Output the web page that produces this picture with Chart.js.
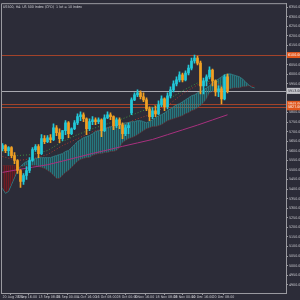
<!DOCTYPE html>
<html>
<head>
<meta charset="utf-8">
<script src="https://cdn.jsdelivr.net/npm/chart.js@4.4.1/dist/chart.umd.min.js"></script>
<style>
  html, body { margin: 0; padding: 0; background: #2c2c38; }
  #chart { display: block; }
</style>
</head>
<body>
<canvas id="chart" width="300" height="300"></canvas>
<script>
// H4 slots across the plot (candles + ichimoku shift into the future)
var slotCount = 95;
var tickSlots = [0, 5, 12, 18, 25, 31, 38, 44, 51, 57, 63, 70];
var tickLabels = ['20 Aug 2024', '3 Sep 16:00', '13 Sep 08:00', '25 Sep 00:00', '4 Oct 16:00', '16 Oct 08:00',
  '28 Oct 00:00', '6 Nov 16:00', '18 Nov 08:00', '28 Nov 00:00', '10 Dec 16:00', '20 Dec 08:00'];

var yTickValues = [4900, 4950, 5000, 5050, 5100, 5150, 5200, 5250, 5300, 5350, 5400, 5450, 5500, 5550, 5600,
  5650, 5700, 5750, 5800, 5850, 5900, 5950, 6000, 6050, 6100, 6150, 6200, 6250, 6300, 6350];

var open = [5611, 5627, 5601, 5616, 5575, 5549, 5497, 5440, 5471, 5497, 5549, 5606, 5622, 5585, 5663, 5648,
  5668, 5658, 5720, 5694, 5663, 5705, 5746, 5689, 5715, 5746, 5778, 5788, 5767, 5715, 5752, 5762,
  5752, 5762, 5705, 5772, 5788, 5778, 5731, 5762, 5736, 5689, 5720, 5798, 5866, 5892, 5902, 5882,
  5866, 5819, 5778, 5809, 5793, 5840, 5871, 5830, 5887, 5918, 5949, 5970, 5996, 5970, 6006, 6032,
  6069, 6084, 6058, 5939, 5965, 5986, 6022, 5965, 5908, 5923, 5871, 5986];
var high = [5637, 5632, 5622, 5622, 5590, 5554, 5502, 5481, 5518, 5564, 5616, 5632, 5632, 5684, 5679, 5679,
  5684, 5741, 5731, 5715, 5705, 5757, 5752, 5720, 5757, 5793, 5804, 5798, 5772, 5767, 5778, 5772,
  5772, 5767, 5788, 5804, 5798, 5783, 5772, 5772, 5746, 5736, 5746, 5876, 5902, 5918, 5913, 5902,
  5876, 5830, 5825, 5835, 5861, 5887, 5876, 5902, 5934, 5965, 5986, 6012, 6006, 6017, 6048, 6084,
  6100, 6095, 6069, 5980, 5996, 6038, 6027, 5970, 5939, 5934, 5996, 6001];
var low = [5601, 5590, 5575, 5564, 5533, 5481, 5408, 5424, 5450, 5486, 5544, 5596, 5564, 5580, 5637, 5642,
  5642, 5653, 5679, 5642, 5653, 5684, 5668, 5684, 5710, 5736, 5757, 5752, 5684, 5705, 5736, 5736,
  5741, 5674, 5700, 5767, 5762, 5710, 5720, 5715, 5663, 5679, 5689, 5788, 5861, 5882, 5871, 5856,
  5809, 5757, 5767, 5778, 5788, 5830, 5809, 5819, 5876, 5908, 5939, 5960, 5960, 5965, 5996, 6022,
  6058, 6048, 5897, 5897, 5939, 5975, 5939, 5887, 5882, 5845, 5866, 5902];
var close = [5627, 5601, 5616, 5575, 5549, 5497, 5440, 5471, 5497, 5549, 5606, 5622, 5585, 5663, 5648, 5668,
  5658, 5720, 5694, 5663, 5705, 5746, 5689, 5715, 5746, 5778, 5788, 5767, 5715, 5752, 5762, 5752,
  5762, 5705, 5772, 5788, 5778, 5731, 5762, 5736, 5689, 5720, 5731, 5866, 5892, 5902, 5882, 5866,
  5819, 5778, 5809, 5793, 5840, 5871, 5830, 5887, 5918, 5949, 5970, 5996, 5970, 6006, 6032, 6069,
  6084, 6058, 5939, 5965, 5986, 6022, 5965, 5908, 5923, 5871, 5986, 5913];

// ichimoku senkou spans (shifted forward)
var spanA = [5403, 5378, 5388, 5424, 5460, 5497, 5518, 5533, 5544, 5549, 5554, 5559, 5564, 5564, 5564, 5564,
  5564, 5570, 5575, 5580, 5585, 5596, 5601, 5616, 5632, 5648, 5658, 5668, 5674, 5679, 5689, 5700,
  5705, 5710, 5715, 5720, 5726, 5726, 5731, 5736, 5741, 5746, 5746, 5752, 5752, 5757, 5757, 5752,
  5746, 5752, 5762, 5772, 5783, 5788, 5798, 5809, 5819, 5830, 5840, 5845, 5856, 5866, 5876, 5887,
  5892, 5902, 5908, 5918, 5928, 5939, 5954, 5965, 5975, 5986, 5996, 6001, 6001, 5996, 5991, 5986,
  5975, 5960, 5944, 5934, 5928];
var spanB = [5523, 5523, 5523, 5523, 5523, 5518, 5518, 5518, 5523, 5523, 5523, 5523, 5518, 5512, 5507, 5497,
  5486, 5471, 5455, 5455, 5471, 5486, 5497, 5512, 5528, 5544, 5554, 5559, 5564, 5564, 5575, 5580,
  5585, 5585, 5590, 5590, 5596, 5596, 5601, 5616, 5642, 5653, 5663, 5668, 5674, 5684, 5694, 5705,
  5715, 5720, 5726, 5726, 5731, 5736, 5746, 5757, 5762, 5767, 5772, 5778, 5783, 5793, 5798, 5809,
  5814, 5824, 5835, 5850, 5871, 5902, 5908, 5913, 5913, 5918, 5923, 5923, 5923, 5928, 5928, 5928,
  5934, 5934, 5939, 5939, 5939];

// slow lines, read every 5 slots
var lineSlots = [0, 5, 10, 15, 20, 25, 30, 35, 40, 45, 50, 55, 60, 65, 70, 75];
var ma200 = [5487, 5501, 5514, 5527, 5546, 5566, 5586, 5604, 5623, 5641, 5659, 5684, 5709, 5734, 5761, 5788];
var kijun = [5596, 5575, 5580, 5601, 5648, 5684, 5715, 5741, 5767, 5798, 5830, 5866, 5913, 5954, 5965, 5954];
var tenkan = [5570, 5549, 5559, 5580, 5627, 5663, 5700, 5720, 5736, 5767, 5793, 5835, 5897, 5944, 5954, 5934];

var levels = [6100, 5845, 5827];
var lastPrice = close[close.length - 1];

var UP = '#22c8d8', DOWN = '#f0a024';
var FONT = "'Liberation Sans Narrow', 'DejaVu Sans Condensed', sans-serif";

var labels = [];
for (var i = 0; i < slotCount; i++) labels.push('');
tickSlots.forEach(function (s, k) { labels[s] = tickLabels[k]; });

function sparse(vals) {
  var arr = new Array(slotCount).fill(null);
  lineSlots.forEach(function (s, k) { arr[s] = vals[k]; });
  return arr;
}

function hatch(c1, c2) {
  var p = document.createElement('canvas');
  p.width = 2; p.height = 1;
  var g = p.getContext('2d');
  g.fillStyle = c1; g.fillRect(0, 0, 1, 1);
  g.fillStyle = c2; g.fillRect(1, 0, 1, 1);
  return g.createPattern(p, 'repeat');
}

var candleColors = close.map(function (c, k) { return c >= open[k] ? UP : DOWN; });

Chart.defaults.font.family = FONT;

var overlay = {
  id: 'overlay',
  beforeDraw: function (chart) {
    var ctx = chart.ctx;
    ctx.save();
    ctx.fillStyle = '#2c2c38';
    ctx.fillRect(0, 0, chart.width, chart.height);
    ctx.restore();
  },
  beforeDatasetsDraw: function (chart) {
    var ctx = chart.ctx, a = chart.chartArea, y = chart.scales.y;
    ctx.save();
    ctx.lineWidth = 1;
    levels.forEach(function (v) {
      var py = Math.round(y.getPixelForValue(v)) + 0.5;
      ctx.strokeStyle = '#a2432a';
      ctx.beginPath(); ctx.moveTo(a.left, py); ctx.lineTo(a.right, py); ctx.stroke();
    });
    var gy = Math.round(y.getPixelForValue(lastPrice)) + 0.5;
    ctx.strokeStyle = '#a8a8b0';
    ctx.beginPath(); ctx.moveTo(a.left, gy); ctx.lineTo(a.right, gy); ctx.stroke();
    ctx.restore();
  },
  afterDraw: function (chart) {
    var ctx = chart.ctx, a = chart.chartArea, y = chart.scales.y;
    ctx.save();
    ctx.strokeStyle = '#9a9aa0';
    ctx.lineWidth = 1;
    ctx.beginPath();
    ctx.moveTo(a.left + 0.5, a.bottom); ctx.lineTo(a.left + 0.5, a.top + 0.5); ctx.lineTo(a.right, a.top + 0.5);
    ctx.stroke();
    ctx.font = '3.6px ' + FONT;
    ctx.fillStyle = '#d0d0d6';
    ctx.textBaseline = 'middle';
    ctx.textAlign = 'left';
    ctx.fillText('US500, H4: US 500 Index (CFD)  1 lot = 10 Index', a.left + 2, a.top + 4);
    function box(v, bg, fg) {
      var py = y.getPixelForValue(v);
      ctx.fillStyle = bg;
      ctx.fillRect(a.right + 1, py - 3, 13, 6);
      ctx.fillStyle = fg;
      ctx.fillText(v.toFixed(2), a.right + 2, py);
    }
    levels.forEach(function (v) { box(v, '#e0561c', '#ffffff'); });
    box(lastPrice, '#c4c4ca', '#2c2c38');
    ctx.restore();
  }
};

new Chart(document.getElementById('chart'), {
  type: 'bar',
  plugins: [overlay],
  data: {
    labels: labels,
    datasets: [
      { type: 'bar', data: low.map(function (l, k) { return [l, high[k]]; }), backgroundColor: candleColors,
        barThickness: 1, grouped: false, order: 1, borderWidth: 0 },
      { type: 'bar', data: open.map(function (o, k) { return [o, close[k]]; }), backgroundColor: candleColors,
        barThickness: 2, grouped: false, order: 0, borderWidth: 0, minBarLength: 1 },
      { type: 'line', data: spanA, borderColor: 'rgba(40,150,156,0.8)', borderWidth: 1, pointRadius: 0, fill: false, order: 11 },
      { type: 'line', data: spanB, borderColor: 'rgba(110,35,40,0.5)', borderWidth: 1, pointRadius: 0, order: 10,
        fill: { target: '-1', above: hatch('rgba(120,26,32,0.9)', 'rgba(90,22,28,0.5)'),
                below: hatch('rgba(36,138,144,0.8)', 'rgba(36,138,144,0.3)') } },
      { type: 'line', data: sparse(ma200), borderColor: '#a8307e', borderWidth: 1, pointRadius: 0, spanGaps: true, order: 5 },
      { type: 'line', data: sparse(kijun), borderColor: '#3f8f3f', borderWidth: 1, borderDash: [1, 2], pointRadius: 0, spanGaps: true, order: 4 },
      { type: 'line', data: sparse(tenkan), borderColor: '#a83a30', borderWidth: 1, borderDash: [1, 2], pointRadius: 0, spanGaps: true, order: 4 }
    ]
  },
  options: {
    responsive: false,
    animation: false,
    layout: { padding: { left: 1, top: 2, right: 0, bottom: 0 } },
    plugins: { legend: { display: false }, tooltip: { enabled: false } },
    scales: {
      x: {
        offset: true,
        afterFit: function (s) { s.height = 7; },
        afterBuildTicks: function (s) { s.ticks = tickSlots.map(function (v) { return { value: v }; }); },
        grid: { drawOnChartArea: false, tickLength: 2, color: '#9a9aa0' },
        border: { color: '#9a9aa0' },
        ticks: { autoSkip: false, maxRotation: 0, minRotation: 0, align: 'start', padding: 0,
                 color: '#c8c8ce', font: { size: 3.6 } }
      },
      y: {
        position: 'right',
        min: 4857,
        max: 6371,
        afterFit: function (s) { s.width = 14; },
        afterBuildTicks: function (s) { s.ticks = yTickValues.map(function (v) { return { value: v }; }); },
        grid: { drawOnChartArea: false, tickLength: 2, color: '#9a9aa0' },
        border: { color: '#9a9aa0' },
        ticks: { padding: 1, color: '#c8c8ce', font: { size: 3.6 },
                 callback: function (v) { return Number(v).toFixed(2); } }
      }
    }
  }
});
</script>
</body>
</html>
